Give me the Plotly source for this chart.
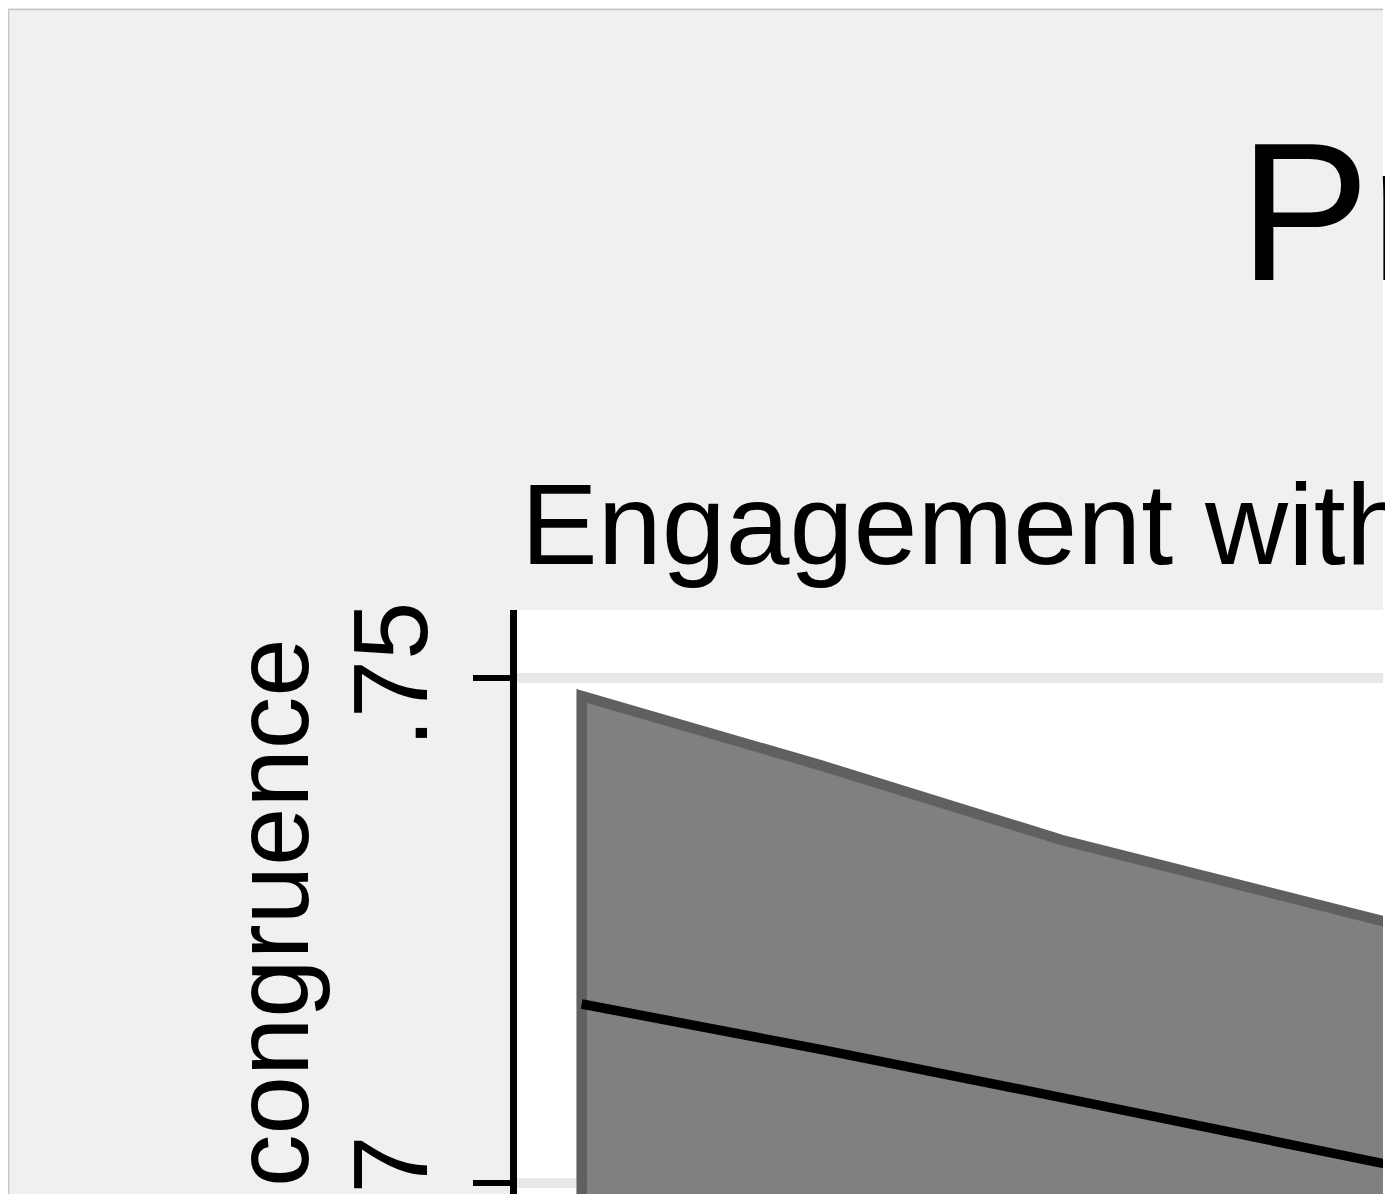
import plotly.graph_objects as go

# ---- data ----
engagement = [0, 1, 2, 3, 4]
predicted = [0.71773, 0.71322, 0.70846, 0.70359, 0.69871]
ci_upper = [0.74825, 0.74135, 0.73398, 0.72768, 0.72197]
ci_lower = [0.68721, 0.68509, 0.68294, 0.67950, 0.67545]
ytick_vals = [0.70, 0.75]
ytick_text = [".7", ".75"]
title_text = "Predicted values"
subtitle_text = "Engagement with politics"
ytitle_text = "Policy incongruence"

# page has an 8px body margin; work in screen pixels and convert
OFF = 8
W, H = 1393 - OFF, 1194 - OFF
L, R, T, B = 517 - OFF, 10, 610 - OFF, 0
PW, PH = W - L - R, H - T - B


def px(xs):
    return (xs - OFF - L) / PW


def py(ys):
    return (H - B - (ys - OFF)) / PH


FONT = "Liberation Sans, Arial, sans-serif"

fig = go.Figure()
band_x = engagement + engagement[::-1]
band_y = ci_upper + ci_lower[::-1]
fig.add_trace(go.Scatter(
    x=band_x, y=band_y,
    fill="toself", fillcolor="#808080",
    line=dict(width=0),
    mode="lines", hoverinfo="skip", showlegend=False,
))
fig.add_trace(go.Scatter(
    x=band_x + band_x[:2], y=band_y + band_y[:2],
    mode="lines", line=dict(color="#606060", width=10.5),
    hoverinfo="skip", showlegend=False,
))
fig.add_trace(go.Scatter(
    x=engagement, y=predicted, mode="lines",
    line=dict(color="black", width=9.5), showlegend=False,
))

shapes = [
    dict(type="line", xref="paper", yref="paper", x0=px(8.5), x1=px(1383), y0=py(9.5), y1=py(9.5),
         line=dict(color="#c4c4c4", width=1.5), layer="above"),
    dict(type="line", xref="paper", yref="paper", x0=px(8.5), x1=px(8.5), y0=py(9), y1=py(1200),
         line=dict(color="#c4c4c4", width=1.5), layer="above"),
    dict(type="rect", xref="paper", yref="paper", x0=px(1383), x1=px(1400), y0=py(1200), y1=py(0),
         fillcolor="white", line=dict(width=0), layer="above"),
]

annotations = [
    dict(text=title_text, xref="paper", yref="paper", x=px(1237), y=py(212),
         xanchor="left", yanchor="middle", showarrow=False,
         font=dict(family=FONT, size=196, color="black")),
    dict(text=subtitle_text, xref="paper", yref="paper", x=px(519), y=py(524),
         xanchor="left", yanchor="middle", showarrow=False,
         font=dict(family=FONT, size=115, color="black")),
    dict(text=ytitle_text, xref="paper", yref="paper", x=px(271), y=py(636),
         xanchor="center", yanchor="top", textangle=-90, showarrow=False,
         font=dict(family=FONT, size=105, color="black")),
]

fig.update_layout(
    width=W, height=H,
    margin=dict(l=L, r=R, t=T, b=B, pad=0, autoexpand=False),
    paper_bgcolor="#f0f0f0", plot_bgcolor="white",
    showlegend=False,
    shapes=shapes, annotations=annotations,
    font=dict(family=FONT, color="black"),
    xaxis=dict(visible=False, range=[(517 - 581.7) / 240, (1383 - 581.7) / 240],
               showgrid=False, zeroline=False, fixedrange=True),
    yaxis=dict(range=[0.69891, 0.756766], tickvals=ytick_vals, ticktext=ytick_text,
               ticks="outside", ticklen=37, tickwidth=6, tickcolor="black",
               showline=True, linewidth=7, linecolor="black",
               tickangle=-90, tickfont=dict(family=FONT, size=105, color="black"),
               ticklabelshift=12, ticklabelstandoff=4, ticklabeloverflow="allow",
               showgrid=True, gridcolor="#e8e8e8", gridwidth=10,
               zeroline=False, automargin=False, fixedrange=True),
)

fig.write_html("out.html")
